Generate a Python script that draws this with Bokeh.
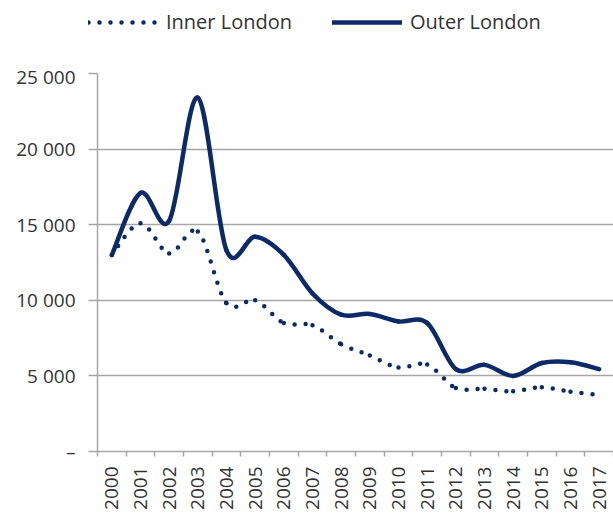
import math
from bokeh.plotting import figure
from bokeh.models import Range1d, FixedTicker, Legend, LegendItem
from bokeh.embed import file_html
from bokeh.resources import INLINE

# ---- data ----
years = [str(y) for y in range(2000, 2018)]
inner_london = [13000, 15100, 13100, 14550, 9800, 10000, 8500, 8350, 7100, 6350,
                5550, 5750, 4200, 4150, 3980, 4250, 3950, 3750]
outer_london = [13000, 17100, 15250, 23400, 13300, 14200, 13000, 10450, 9050, 9100,
                8600, 8500, 5450, 5730, 5000, 5850, 5900, 5450]
y_ticks = [0, 5000, 10000, 15000, 20000, 25000]
y_tick_labels = ["–", "5 000", "10 000", "15 000", "20 000", "25 000"]
series_names = ["Inner London", "Outer London"]

NAVY = "#0c2a67"
GRID = "#a6a6a6"
TEXT = "#333333"
FONT = "Open Sans"
DOTS = "0 11"


def smooth_segments(vals):
    """Bezier segments (Excel-like smoothed line) through the data points."""
    n = len(vals)
    xs = [i + 0.5 for i in range(n)]
    d = dict(x0=[], y0=[], x1=[], y1=[], cx0=[], cy0=[], cx1=[], cy1=[])
    for i in range(n - 1):
        i0 = max(i - 1, 0)
        i3 = min(i + 2, n - 1)
        d["x0"].append(xs[i]); d["y0"].append(vals[i])
        d["x1"].append(xs[i + 1]); d["y1"].append(vals[i + 1])
        d["cx0"].append(xs[i] + (xs[i + 1] - xs[i0]) / 6)
        d["cy0"].append(vals[i] + (vals[i + 1] - vals[i0]) / 6)
        d["cx1"].append(xs[i + 1] - (xs[i3] - xs[i]) / 6)
        d["cy1"].append(vals[i + 1] - (vals[i3] - vals[i]) / 6)
    return d


centers = [i + 0.5 for i in range(len(years))]

# ---------- legend strip (top) ----------
lg = figure(width=613, height=63, output_backend="svg", toolbar_location=None,
            x_axis_type=None, y_axis_type=None,
            x_range=Range1d(0, 1), y_range=Range1d(-2, -1),
            min_border_left=0, min_border_right=0, min_border_top=0,
            min_border_bottom=0)
lg.outline_line_color = None
lg.grid.visible = False
# the series drawn here fall outside this strip's ranges; they only feed the legend
k_in = lg.line(centers, inner_london, line_color=NAVY, line_width=4.5,
               line_dash=DOTS, line_cap="round")
k_out = lg.line(centers, outer_london, line_color=NAVY, line_width=4.5,
                line_cap="round")
legend = Legend(items=[LegendItem(label=series_names[0], renderers=[k_in]),
                       LegendItem(label=series_names[1], renderers=[k_out])],
                orientation="horizontal", location=(88, 28),
                glyph_width=70, glyph_height=20, label_standoff=8, spacing=40,
                padding=0, margin=0, border_line_color=None,
                background_fill_alpha=0,
                label_text_font=FONT, label_text_font_size="20px",
                label_text_color=TEXT)
lg.add_layout(legend, "center")

# ---------- main chart ----------
p = figure(width=613, height=453, output_backend="svg", toolbar_location=None,
           x_range=Range1d(0, len(years)), y_range=Range1d(0, 25000),
           min_border_left=97, min_border_right=0, min_border_top=10,
           min_border_bottom=65)
p.outline_line_color = None
p.background_fill_color = "white"
p.border_fill_color = "white"

p.bezier(**smooth_segments(inner_london), line_color=NAVY, line_width=4.5,
         line_dash=DOTS, line_cap="round")
p.bezier(**smooth_segments(outer_london), line_color=NAVY, line_width=4.5,
         line_cap="round")

p.xgrid.visible = False
p.ygrid.ticker = FixedTicker(ticks=y_ticks)
p.ygrid.grid_line_color = GRID
p.ygrid.grid_line_width = 1.5

p.yaxis.ticker = FixedTicker(ticks=y_ticks)
p.yaxis.major_label_overrides = dict(zip(y_ticks, y_tick_labels))
p.yaxis.axis_line_color = GRID
p.yaxis.axis_line_width = 1.5
p.yaxis.major_tick_line_color = GRID
p.yaxis.major_tick_line_width = 1.5
p.yaxis.major_tick_out = 9
p.yaxis.major_tick_in = 0
p.yaxis.minor_tick_line_color = None
p.yaxis.major_label_standoff = 13
p.yaxis.major_label_text_font = FONT
p.yaxis.major_label_text_font_size = "19px"
p.yaxis.major_label_text_color = TEXT

p.xaxis.ticker = FixedTicker(ticks=centers, minor_ticks=list(range(len(years) + 1)))
p.xaxis.major_label_overrides = dict(zip(centers, years))
p.xaxis.axis_line_color = GRID
p.xaxis.axis_line_width = 1.5
p.xaxis.major_tick_line_color = None
p.xaxis.minor_tick_line_color = GRID
p.xaxis.minor_tick_line_width = 1.5
p.xaxis.minor_tick_out = 5
p.xaxis.minor_tick_in = 0
p.xaxis.major_label_orientation = math.pi / 2
p.xaxis.major_label_standoff = 9
p.xaxis.major_label_text_font = FONT
p.xaxis.major_label_text_font_size = "19px"
p.xaxis.major_label_text_color = TEXT

open("out.html", "w").write(file_html([lg, p], INLINE))
